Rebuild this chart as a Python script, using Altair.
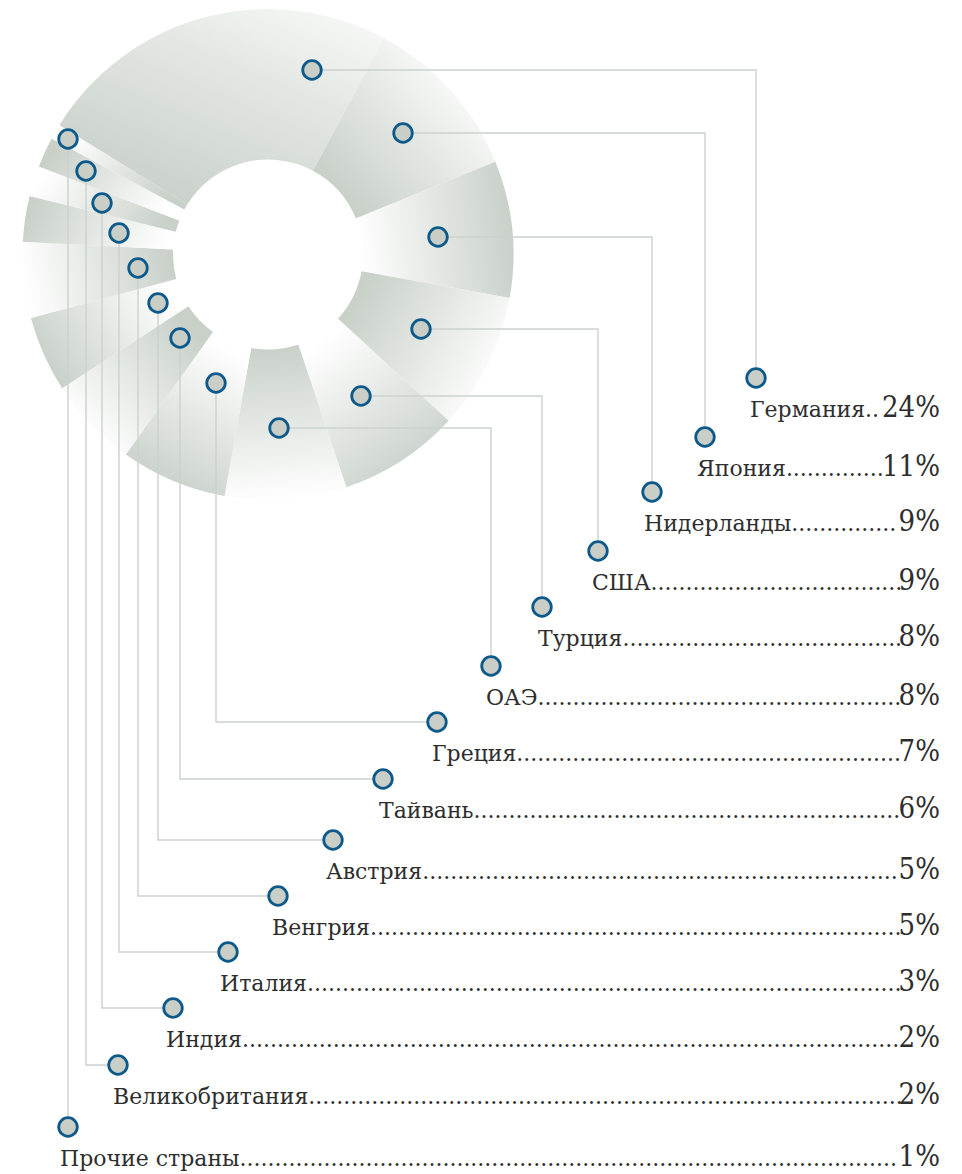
import math
import altair as alt
import pandas as pd

# ---------------- data ----------------
countries = ["Германия", "Япония", "Нидерланды", "США", "Турция", "ОАЭ", "Греция",
             "Тайвань", "Австрия", "Венгрия", "Италия", "Индия", "Великобритания",
             "Прочие страны"]
shares = [24, 11, 9, 9, 8, 8, 7, 6, 5, 5, 3, 2, 2, 1]
pct_labels = ["24%", "11%", "9%", "9%", "8%", "8%", "7%", "6%", "5%", "5%", "3%", "2%", "2%", "1%"]

# ---------------- layout (page pixels) ----------------
CX, CY = 268, 254.5
R_IN, R_OUT = 95, 245.5
START_DEG = -58.2

marker_x = [312, 403, 438, 421, 361, 279, 216, 180, 158, 138, 119, 102, 86, 68]
marker_y = [70, 133, 237, 329, 396, 428, 383, 338, 303, 268, 233, 203, 171, 139]
label_x = [756, 705, 652, 598, 542, 491, 437, 383, 333, 278, 228, 173, 118, 68]
label_y = [378, 437, 492, 551, 607, 666, 722, 779, 840, 896, 952, 1008, 1065, 1127]
text_x = [750, 697, 644, 592, 538, 486, 432, 379, 326, 272, 220, 166, 113, 60]
horizontal_first = [True] * 6 + [False] * 8
BASE_OFF = 39
PCT_RIGHT = 940
pct_left = [886, 886] + [903] * 12

# ---------------- styles ----------------
DARK = "#c8d0c8"
LIGHT = "#ffffff"
LINE_C = "#cbd2cd"
MARK_FILL = "#c9cec7"
MARK_STROKE = "#0d5a8a"
TEXT_C = "#2e2e2e"
FONT = "DejaVu Serif"
PCT_FONT = "DejaVu Serif Condensed, DejaVu Serif"
light_out = [None, True, False, True, False, True, False, True, False, True, False, True, False, True]

W, H = 946, 1164
xs = alt.Scale(domain=[8, 8 + W], nice=False, zero=False)
ys = alt.Scale(domain=[8, 8 + H], reverse=True, nice=False, zero=False)

two_pi = 2 * math.pi
a0 = math.radians(START_DEG)
theta_scale = alt.Scale(domain=[0, 100], range=[a0, a0 + two_pi])

wedges = pd.DataFrame({"country": countries, "share": shares})
wedges["t1"] = wedges["share"].cumsum()
wedges["t0"] = wedges["t1"] - wedges["share"]

layers = []
for i in range(len(countries)):
    t0 = wedges.loc[i, "t0"]
    t1 = wedges.loc[i, "t1"]
    mid = a0 + (t0 + t1) / 2 / 100 * two_pi
    sx, sy = math.sin(mid), -math.cos(mid)
    if light_out[i] is None:
        p1 = (0.3, 1.0)
        p2 = (1.0, 0.0)
        stops = [alt.GradientStop(color=DARK, offset=0), alt.GradientStop(color="#e4e8e4", offset=0.6),
                 alt.GradientStop(color="#fafbfa", offset=1)]
    else:
        p1 = (0.5 - 0.5 * sx, 0.5 - 0.5 * sy)
        p2 = (0.5 + 0.5 * sx, 0.5 + 0.5 * sy)
        if light_out[i]:
            stops = [alt.GradientStop(color=DARK, offset=0), alt.GradientStop(color=LIGHT, offset=1)]
        else:
            stops = [alt.GradientStop(color=LIGHT, offset=0), alt.GradientStop(color=DARK, offset=1)]
    grad = alt.LinearGradient(gradient="linear", stops=stops,
                              x1=p1[0], y1=p1[1], x2=p2[0], y2=p2[1])
    arc = alt.Chart(wedges.iloc[[i]]).mark_arc(
        innerRadius=R_IN, outerRadius=R_OUT, fill=grad, strokeWidth=0
    ).encode(
        theta=alt.Theta("t0:Q", scale=theta_scale, stack=None),
        theta2="t1:Q",
        x=alt.X(datum=CX, type="quantitative", scale=xs, axis=None),
        y=alt.Y(datum=CY, type="quantitative", scale=ys, axis=None),
    )
    layers.append(arc)

# leader lines
rows = []
for i, c in enumerate(countries):
    if horizontal_first[i]:
        pts = [(marker_x[i], marker_y[i]), (label_x[i], marker_y[i]), (label_x[i], label_y[i])]
    else:
        pts = [(marker_x[i], marker_y[i]), (marker_x[i], label_y[i]), (label_x[i], label_y[i])]
    for k, (px, py) in enumerate(pts):
        rows.append({"country": c, "k": k, "px": px, "py": py})
lines_df = pd.DataFrame(rows)
lines = alt.Chart(lines_df).mark_line(color=LINE_C, strokeWidth=1.4, interpolate="linear").encode(
    x=alt.X("px:Q", scale=xs, axis=None),
    y=alt.Y("py:Q", scale=ys, axis=None),
    detail="country:N",
    order="k:Q",
)
layers.append(lines)

pts_df = pd.DataFrame({
    "country": countries * 2,
    "px": marker_x + label_x,
    "py": marker_y + label_y,
})
points = alt.Chart(pts_df).mark_point(
    shape="circle", filled=True, fill=MARK_FILL, stroke=MARK_STROKE, strokeWidth=2.8,
    size=345, opacity=1
).encode(
    x=alt.X("px:Q", scale=xs, axis=None),
    y=alt.Y("py:Q", scale=ys, axis=None),
)
layers.append(points)

# labels
lab = pd.DataFrame({
    "country": countries,
    "tx": text_x,
    "ty": [v + BASE_OFF for v in label_y],
    "pct": pct_labels,
    "px": [PCT_RIGHT] * len(countries),
})
lab["name_dots"] = lab["country"] + "." * 120
for i in range(len(countries)):
    t = alt.Chart(lab.iloc[[i]]).mark_text(
        align="left", baseline="alphabetic", font=FONT, fontSize=22, color=TEXT_C,
        limit=pct_left[i] - text_x[i], ellipsis="."
    ).encode(
        x=alt.X("tx:Q", scale=xs, axis=None),
        y=alt.Y("ty:Q", scale=ys, axis=None),
        text="name_dots:N",
    )
    layers.append(t)

pct = alt.Chart(lab).mark_text(
    align="right", baseline="alphabetic", font=PCT_FONT, fontSize=29, color=TEXT_C
).encode(
    x=alt.X("px:Q", scale=xs, axis=None),
    y=alt.Y("ty:Q", scale=ys, axis=None),
    text="pct:N",
)
layers.append(pct)

chart = alt.layer(*layers).properties(
    width=W, height=H, padding=0, autosize=alt.AutoSizeParams(type="none")
).configure_view(stroke=None)

chart.save("out.html", embed_options={"renderer": "svg", "actions": False})
